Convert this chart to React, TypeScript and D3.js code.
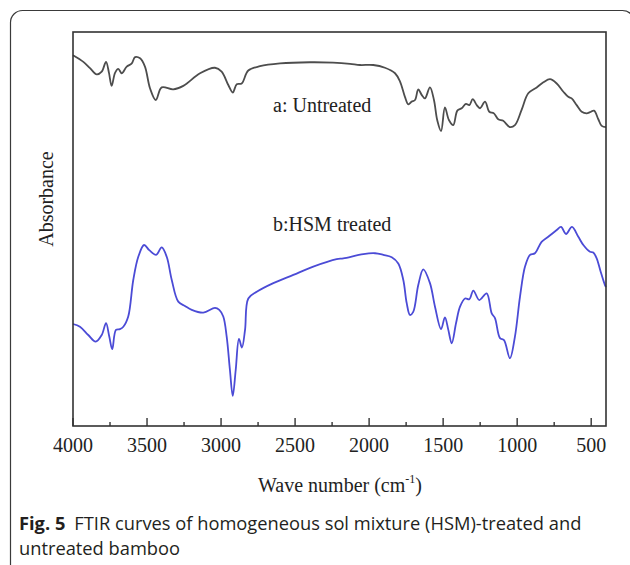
import { useEffect, useRef } from 'react';
import * as d3 from 'd3';

// wavenumber (cm-1) and relative absorbance
const untreatedWave = [4000, 3930, 3885, 3840, 3806, 3777, 3757, 3739, 3716, 3694, 3671, 3637, 3603, 3581, 3547, 3514, 3480, 3441, 3401, 3323, 3255, 3142, 3041, 2996, 2951, 2921, 2894, 2861, 2816, 2737, 2602, 2399, 2244, 2129, 2062, 1972, 1893, 1825, 1791, 1758, 1735, 1712, 1690, 1668, 1645, 1623, 1589, 1562, 1540, 1514, 1488, 1461, 1432, 1404, 1375, 1346, 1323, 1300, 1273, 1251, 1217, 1188, 1157, 1128, 1094, 1049, 1015, 970, 925, 868, 823, 778, 733, 688, 655, 632, 598, 564, 530, 508, 481, 452, 429, 400];
const untreatedAbs = [0.941, 0.924, 0.908, 0.892, 0.899, 0.924, 0.896, 0.863, 0.896, 0.906, 0.895, 0.912, 0.92, 0.936, 0.933, 0.912, 0.857, 0.827, 0.859, 0.854, 0.863, 0.895, 0.909, 0.899, 0.865, 0.846, 0.867, 0.869, 0.902, 0.913, 0.92, 0.923, 0.922, 0.919, 0.916, 0.916, 0.909, 0.895, 0.874, 0.835, 0.816, 0.823, 0.827, 0.854, 0.84, 0.831, 0.859, 0.827, 0.776, 0.748, 0.808, 0.776, 0.763, 0.8, 0.806, 0.817, 0.814, 0.829, 0.814, 0.806, 0.823, 0.797, 0.793, 0.778, 0.774, 0.758, 0.763, 0.802, 0.844, 0.859, 0.872, 0.88, 0.869, 0.848, 0.835, 0.831, 0.814, 0.797, 0.793, 0.796, 0.8, 0.778, 0.761, 0.758];

const hsmWave = [4000, 3953, 3897, 3847, 3806, 3777, 3755, 3735, 3710, 3683, 3660, 3627, 3593, 3559, 3520, 3485, 3439, 3401, 3367, 3333, 3289, 3244, 3198, 3120, 3041, 3012, 2985, 2962, 2940, 2921, 2901, 2879, 2859, 2838, 2816, 2759, 2647, 2512, 2377, 2219, 2174, 2039, 1960, 1904, 1847, 1803, 1769, 1746, 1724, 1702, 1668, 1634, 1589, 1555, 1514, 1488, 1465, 1442, 1413, 1386, 1352, 1323, 1296, 1256, 1206, 1172, 1150, 1116, 1089, 1049, 1015, 981, 947, 913, 880, 835, 790, 733, 704, 670, 630, 587, 553, 508, 486, 463, 436, 407, 400];
const hsmAbs = [0.257, 0.25, 0.229, 0.212, 0.229, 0.259, 0.225, 0.193, 0.242, 0.244, 0.25, 0.276, 0.369, 0.428, 0.458, 0.445, 0.433, 0.452, 0.428, 0.369, 0.314, 0.303, 0.293, 0.286, 0.298, 0.293, 0.276, 0.225, 0.14, 0.074, 0.14, 0.219, 0.197, 0.242, 0.322, 0.339, 0.361, 0.382, 0.403, 0.422, 0.424, 0.435, 0.437, 0.433, 0.427, 0.411, 0.369, 0.31, 0.28, 0.288, 0.356, 0.396, 0.361, 0.301, 0.244, 0.274, 0.242, 0.208, 0.259, 0.301, 0.322, 0.32, 0.342, 0.318, 0.335, 0.284, 0.272, 0.221, 0.216, 0.17, 0.225, 0.326, 0.403, 0.433, 0.437, 0.466, 0.479, 0.496, 0.504, 0.486, 0.504, 0.479, 0.458, 0.441, 0.439, 0.424, 0.39, 0.356, 0.351];

const majorTicks = [4000, 3500, 3000, 2500, 2000, 1500, 1000, 500];
const minorTicks = [3750, 3250, 2750, 2250, 1750, 1250, 750];

const serif = '"Liberation Serif", "Times New Roman", serif';
const sans = '"Open Sans", "Noto Sans", sans-serif';

export default function App() {
  const svgRef = useRef<SVGSVGElement>(null);

  useEffect(() => {
    if (!svgRef.current) return;
    const svg = d3.select(svgRef.current);
    svg.selectAll('*').remove();

    const left = 73;
    const right = 606;
    const top = 32;
    const bottom = 426;

    const x = d3.scaleLinear().domain([4000, 400]).range([left, right]);
    const y = d3.scaleLinear().domain([0, 1]).range([425, 32]);

    // outer rounded frame of the figure
    svg.append('rect')
      .attr('x', 10.5)
      .attr('y', 10.5)
      .attr('width', 624)
      .attr('height', 570)
      .attr('rx', 12)
      .attr('fill', 'none')
      .attr('stroke', '#3a3a3a')
      .attr('stroke-width', 1.2);

    const line = d3.line<[number, number]>()
      .x((d) => x(d[0]))
      .y((d) => y(d[1]))
      .curve(d3.curveCatmullRom.alpha(0.5));

    svg.append('path')
      .datum(untreatedWave.map((w, i) => [w, untreatedAbs[i]] as [number, number]))
      .attr('fill', 'none')
      .attr('stroke', '#4d4d4d')
      .attr('stroke-width', 1.8)
      .attr('d', line);

    svg.append('path')
      .datum(hsmWave.map((w, i) => [w, hsmAbs[i]] as [number, number]))
      .attr('fill', 'none')
      .attr('stroke', '#4b4bd6')
      .attr('stroke-width', 1.8)
      .attr('d', line);

    // plot box
    svg.append('rect')
      .attr('x', left)
      .attr('y', top)
      .attr('width', right - left)
      .attr('height', bottom - top)
      .attr('fill', 'none')
      .attr('stroke', '#333')
      .attr('stroke-width', 1.6);

    // inward ticks on the bottom axis
    svg.append('g')
      .selectAll('line')
      .data(majorTicks)
      .join('line')
      .attr('x1', (d) => x(d))
      .attr('x2', (d) => x(d))
      .attr('y1', bottom)
      .attr('y2', bottom - 8)
      .attr('stroke', '#333')
      .attr('stroke-width', 1.4);

    svg.append('g')
      .selectAll('line')
      .data(minorTicks)
      .join('line')
      .attr('x1', (d) => x(d))
      .attr('x2', (d) => x(d))
      .attr('y1', bottom)
      .attr('y2', bottom - 4)
      .attr('stroke', '#333')
      .attr('stroke-width', 1.4);

    svg.append('g')
      .selectAll('text')
      .data(majorTicks)
      .join('text')
      .attr('x', (d) => x(d))
      .attr('y', 452)
      .attr('text-anchor', 'middle')
      .attr('font-family', serif)
      .attr('font-size', 20)
      .attr('fill', '#222')
      .text((d) => String(d));

    // axis titles
    const xt = svg.append('text')
      .attr('x', 340)
      .attr('y', 492)
      .attr('text-anchor', 'middle')
      .attr('font-family', serif)
      .attr('font-size', 20)
      .attr('fill', '#222');
    xt.append('tspan').text('Wave number (cm');
    xt.append('tspan').attr('font-size', 12).attr('dy', -9).text('-1');
    xt.append('tspan').attr('dy', 9).text(')');

    svg.append('text')
      .attr('transform', 'translate(53,199) rotate(-90)')
      .attr('text-anchor', 'middle')
      .attr('font-family', serif)
      .attr('font-size', 20)
      .attr('fill', '#222')
      .text('Absorbance');

    // curve labels
    svg.append('text')
      .attr('x', 273)
      .attr('y', 112)
      .attr('font-family', serif)
      .attr('font-size', 20)
      .attr('fill', '#222')
      .text('a: Untreated');

    svg.append('text')
      .attr('x', 273)
      .attr('y', 231)
      .attr('font-family', serif)
      .attr('font-size', 20)
      .attr('fill', '#222')
      .text('b:HSM treated');

    // caption
    const cap = svg.append('text')
      .attr('x', 19)
      .attr('y', 530)
      .attr('font-family', sans)
      .attr('font-size', 18.3)
      .attr('fill', '#231f20');
    cap.append('tspan').attr('font-weight', 'bold').text('Fig. 5');
    cap.append('tspan').attr('dx', 9).text('FTIR curves of homogeneous sol mixture (HSM)-treated and');

    svg.append('text')
      .attr('x', 19)
      .attr('y', 555)
      .attr('font-family', sans)
      .attr('font-size', 18.3)
      .attr('fill', '#231f20')
      .text('untreated bamboo');
  }, []);

  return (
    <div style={{ position: 'absolute', left: 0, top: 0 }}>
      <svg ref={svgRef} width={630} height={565} style={{ display: 'block', background: '#fff' }}></svg>
    </div>
  );
}
